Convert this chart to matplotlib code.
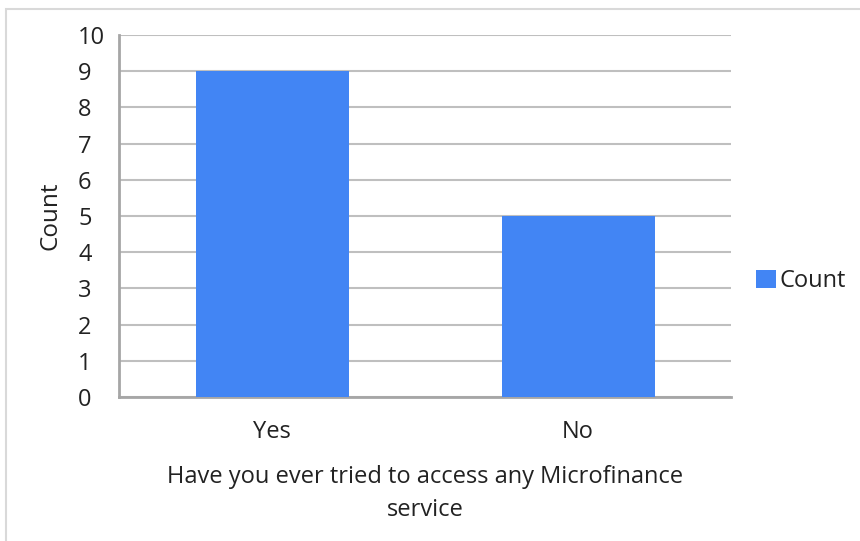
import matplotlib
matplotlib.use("Agg")
import matplotlib.pyplot as plt
from matplotlib.patches import Rectangle

categories = ["Yes", "No"]
counts = [9, 5]
y_ticks = list(range(0, 11))
series_name = "Count"

bar_color = "#4285F4"
grid_color = "#BFBFBF"
text_color = "#222222"
fs = 17

plt.rcParams["font.family"] = ["Open Sans", "DejaVu Sans"]

fig = plt.figure(figsize=(8.6, 5.41), dpi=100)
fig.patch.set_facecolor("white")

# outer chart frame
fig.add_artist(Rectangle((6 / 860, -0.05), 1.2, 1 - 9 / 541 + 0.05,
                         transform=fig.transFigure, fill=False,
                         edgecolor="#D9D9D9", linewidth=1.5))

ax = fig.add_axes([119 / 860, 144 / 541, 612 / 860, 362 / 541])
x = list(range(len(categories)))
ax.bar(x, counts, width=0.5, color=bar_color, label=series_name, zorder=3)

ax.set_xlim(-0.5, len(categories) - 0.5)
ax.set_ylim(0, 10)
ax.set_yticks(y_ticks)
ax.set_yticklabels([str(t) for t in y_ticks], fontsize=fs, color=text_color)
for lbl in ax.get_yticklabels():
    lbl.set_horizontalalignment("left")
ax.set_xticks(x)
ax.set_xticklabels(categories, fontsize=fs, color=text_color)
ax.tick_params(axis="y", length=0, pad=29.5)
ax.tick_params(axis="x", length=0, pad=16.5)

ax.yaxis.grid(True, color=grid_color, linewidth=1.5, zorder=0)
ax.set_axisbelow(True)
for side in ("top", "right"):
    ax.spines[side].set_visible(False)
for side in ("left", "bottom"):
    ax.spines[side].set_color("#A6A6A6")
    ax.spines[side].set_linewidth(2)

ax.set_ylabel("Count", fontsize=fs + 0.5, color=text_color)
ax.yaxis.set_label_coords(-(119 - 62) / 612, 0.5)
ax.set_xlabel("Have you ever tried to access any Microfinance\nservice",
              fontsize=fs, color=text_color, labelpad=15.5, linespacing=1.5)

leg = ax.legend(loc="center left", bbox_to_anchor=(1.0055, 0.32), frameon=False,
                fontsize=fs, handlelength=0.85, handleheight=0.85,
                handletextpad=0.15, labelcolor=text_color)

fig.savefig("out.png", dpi=100)
